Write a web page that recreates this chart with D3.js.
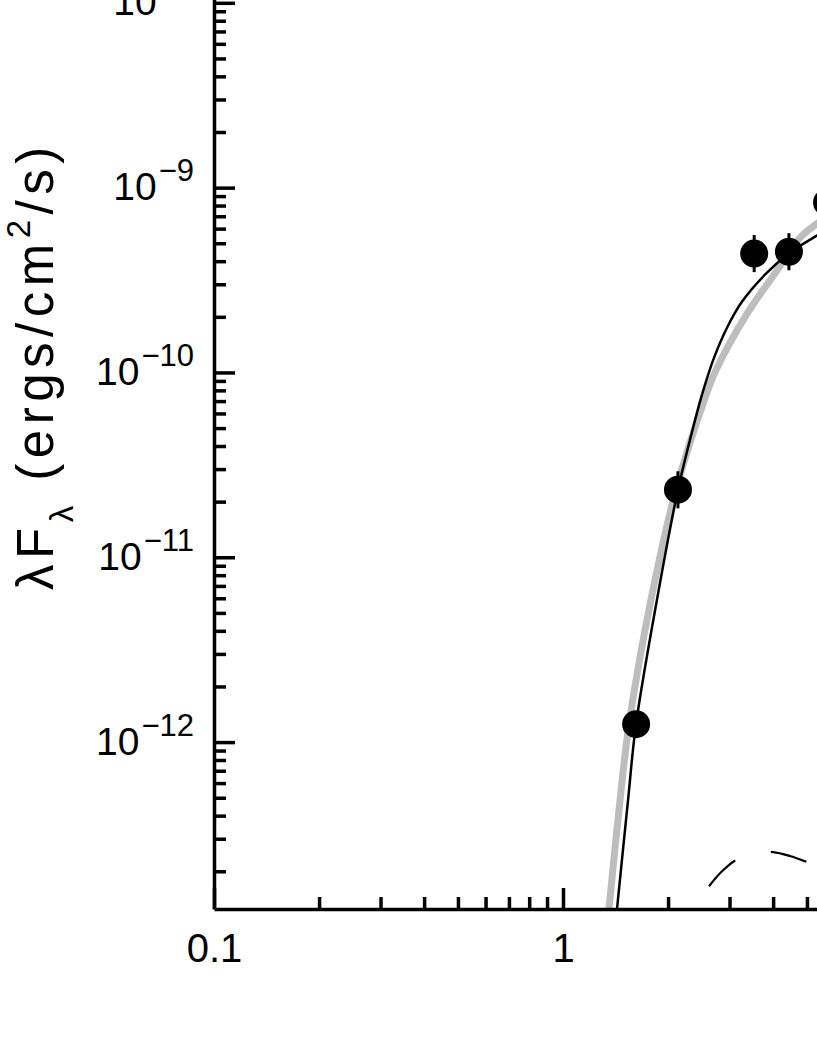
<!DOCTYPE html>
<html>
<head>
<meta charset="utf-8">
<script src="https://cdn.jsdelivr.net/npm/d3@7"></script>
<style>
  body { margin: 0; background: #fff; }
  svg { display: block; font-family: "Liberation Sans", Arial, sans-serif; }
</style>
</head>
<body>
<svg id="chart" width="817" height="1058"></svg>
<script>
// photometry points (micron, erg/cm2/s)
const pointWave = [1.62, 2.135, 3.53, 4.44, 5.71];
const pointFlux = [1.25e-12, 2.32e-11, 4.40e-10, 4.50e-10, 8.3e-10];
const pointLo = [1.11e-12, 1.84e-11, 3.49e-10, 3.57e-10, 6.6e-10];
const pointHi = [1.40e-12, 2.92e-11, 5.54e-10, 5.67e-10, 1.05e-9];

// black model curve
const modelWave = [1.400, 1.428, 1.536, 1.619, 1.859, 2.135, 2.312, 2.502, 2.708, 2.970, 3.26, 3.79, 4.47, 5.34, 6.43];
const modelFlux = [8.5e-14, 1.25e-13, 4.86e-13, 1.25e-12, 5.90e-12, 2.32e-11, 4.33e-11, 7.59e-11, 1.20e-10, 1.79e-10, 2.42e-10, 3.38e-10, 4.45e-10, 5.50e-10, 6.71e-10];

// grey model curve
const greyWave = [1.328, 1.354, 1.457, 1.546, 1.787, 2.107, 2.535, 2.744, 3.39, 4.10, 4.78, 5.34, 6.43];
const greyFlux = [8.5e-14, 1.25e-13, 4.86e-13, 1.25e-12, 5.90e-12, 2.32e-11, 7.00e-11, 1.03e-10, 2.12e-10, 3.55e-10, 5.36e-10, 6.38e-10, 8.19e-10];

// dashed component
const dashWave = [2.62, 2.855, 3.13, 3.55, 4.00, 4.47, 5.10, 5.82];
const dashFlux = [1.66e-13, 2.00e-13, 2.30e-13, 2.51e-13, 2.54e-13, 2.42e-13, 2.21e-13, 1.98e-13];

const xMajor = [0.1, 1, 10];
const xLabels = ['0.1', '1', ''];
const yMajor = [1e-12, 1e-11, 1e-10, 1e-9, 1e-8];
const yExp = ['\u221212', '\u221211', '\u221210', '\u22129', '\u22128'];

let svg = d3.select('#chart');

let x = d3.scaleLog().domain([0.1, 10]).range([214, 912]);
let y = d3.scaleLog().domain([1.25e-13, 1e-7]).range([909, -182]);

let minorX = [];
[0.1, 1].forEach(d => { for (let k = 2; k <= 9; k++) minorX.push(d * k); });
let minorY = [];
[1e-13, 1e-12, 1e-11, 1e-10, 1e-9, 1e-8].forEach(d => {
  for (let k = 2; k <= 9; k++) if (d * k > 1.25e-13) minorY.push(d * k);
});

svg.append('clipPath').attr('id', 'plotclip')
  .append('rect').attr('x', 214).attr('y', -200).attr('width', 720).attr('height', 1109);

let plot = svg.append('g').attr('clip-path', 'url(#plotclip)');

let line = d3.line()
  .x(d => x(d[0]))
  .y(d => y(d[1]))
  .curve(d3.curveCatmullRom.alpha(0.5));

plot.append('path')
  .datum(d3.zip(greyWave, greyFlux))
  .attr('d', line)
  .attr('fill', 'none')
  .attr('stroke', '#bdbdbd')
  .attr('stroke-width', 7);

plot.append('path')
  .datum(d3.zip(modelWave, modelFlux))
  .attr('d', line)
  .attr('fill', 'none')
  .attr('stroke', '#000')
  .attr('stroke-width', 2.5);

plot.append('path')
  .datum(d3.zip(dashWave, dashFlux))
  .attr('d', line)
  .attr('fill', 'none')
  .attr('stroke', '#000')
  .attr('stroke-width', 2.2)
  .attr('stroke-dasharray', '37,37');

let pts = d3.range(pointWave.length);

plot.append('g')
  .selectAll('line')
  .data(pts)
  .enter().append('line')
  .attr('x1', i => x(pointWave[i]))
  .attr('x2', i => x(pointWave[i]))
  .attr('y1', i => y(pointLo[i]))
  .attr('y2', i => y(pointHi[i]))
  .attr('stroke', '#000')
  .attr('stroke-width', 3);

plot.append('g')
  .selectAll('circle')
  .data(pts)
  .enter().append('circle')
  .attr('cx', i => x(pointWave[i]))
  .attr('cy', i => y(pointFlux[i]))
  .attr('r', 14)
  .attr('fill', '#000');

// x axis
let xAxis = d3.axisBottom(x)
  .tickValues(xMajor)
  .tickSize(-21)
  .tickSizeOuter(0)
  .tickPadding(25)
  .tickFormat((d, i) => xLabels[i]);

let gx = svg.append('g')
  .attr('transform', 'translate(0, 909)')
  .call(xAxis);
gx.selectAll('text').attr('font-size', 40).attr('fill', '#000');

svg.append('g')
  .attr('transform', 'translate(0, 909)')
  .call(d3.axisBottom(x).tickValues(minorX).tickSize(-12).tickFormat(''))
  .select('.domain').remove();

// y axis
let yAxis = d3.axisLeft(y)
  .tickValues(yMajor)
  .tickSize(-21)
  .tickSizeOuter(0)
  .tickPadding(20)
  .tickFormat('');

let gy = svg.append('g')
  .attr('transform', 'translate(214, 0)')
  .call(yAxis);

svg.append('g')
  .attr('transform', 'translate(214, 0)')
  .call(d3.axisLeft(y).tickValues(minorY).tickSize(-12).tickFormat(''))
  .select('.domain').remove();

gy.selectAll('.tick').each(function(d, i) {
  let t = d3.select(this).select('text')
    .attr('x', -20)
    .attr('dy', null)
    .attr('y', 12)
    .attr('text-anchor', 'end')
    .attr('fill', '#000');
  t.append('tspan').attr('font-size', 39).text('10');
  t.append('tspan').attr('font-size', 31).attr('dy', -19).attr('dx', 2).text(yExp[i]);
});

svg.selectAll('.domain, .tick line')
  .attr('stroke', '#000')
  .attr('stroke-width', 3.5);

// y axis title
let title = svg.append('text')
  .attr('transform', 'translate(53, 590) rotate(-90)')
  .attr('font-size', 51)
  .attr('letter-spacing', 5.5)
  .attr('fill', '#000');
title.append('tspan').text('\u03bbF');
title.append('tspan').attr('font-size', 33).attr('dy', 20).text('\u03bb');
title.append('tspan').attr('dy', -20).text('\u00a0(ergs/cm');
title.append('tspan').attr('font-size', 33).attr('dy', -23).text('2');
title.append('tspan').attr('dy', 23).text('/s)');
</script>
</body>
</html>
